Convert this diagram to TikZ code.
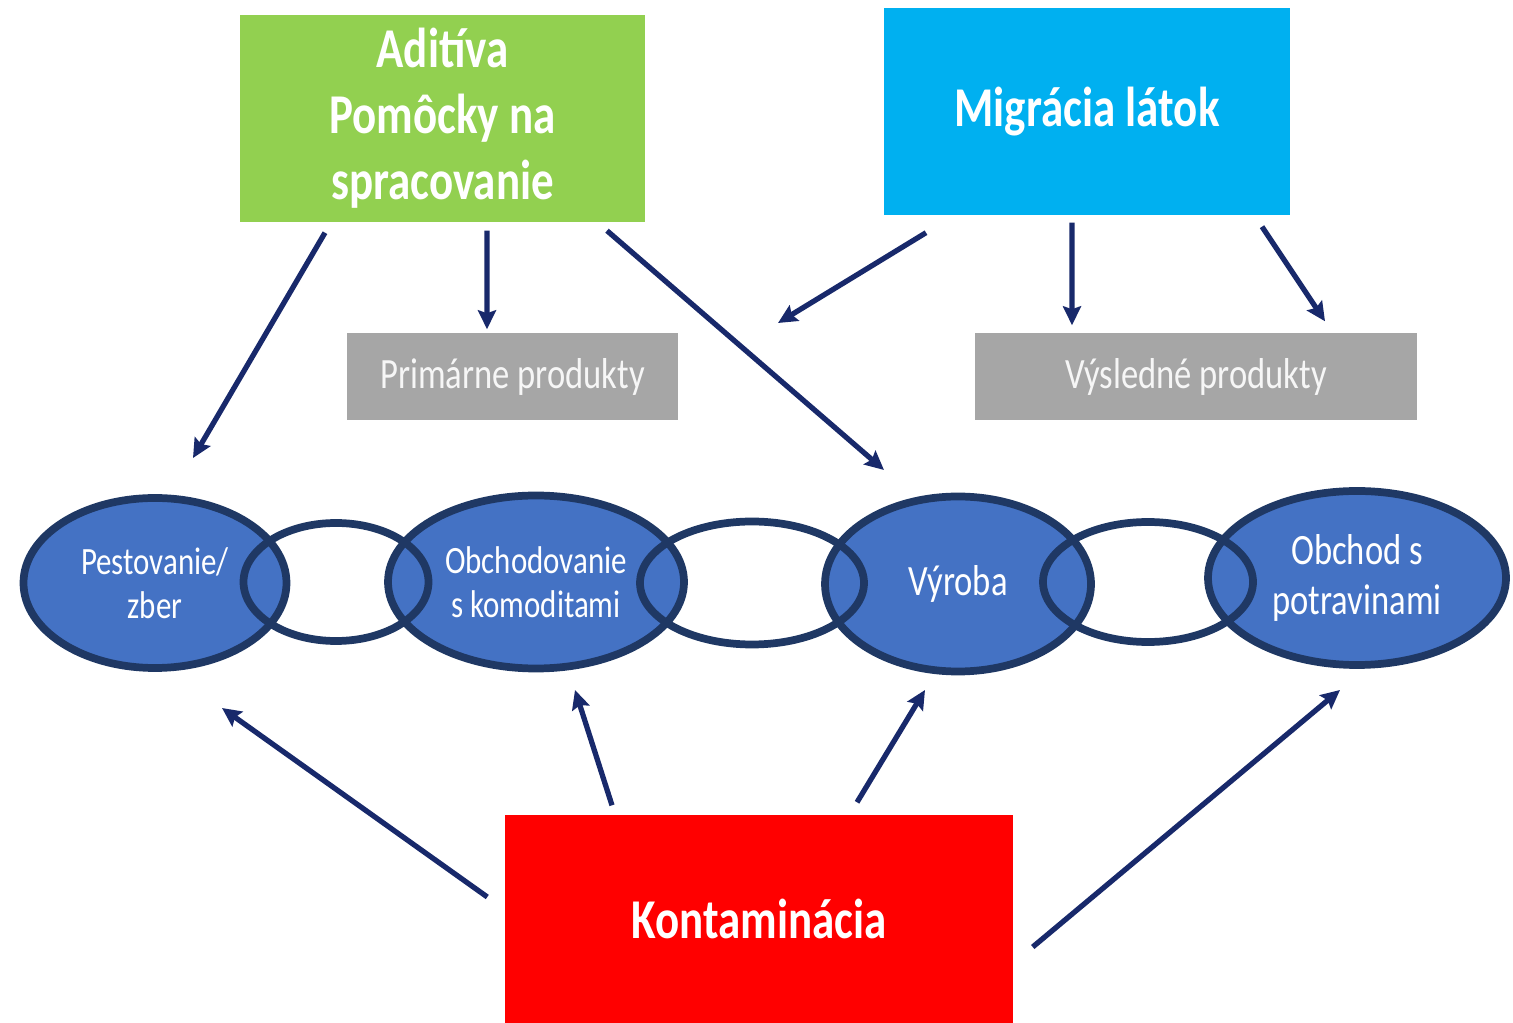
\documentclass[tikz,border=0pt]{standalone}
\usepackage{fontspec}
\setmainfont[FakeStretch=0.8]{Carlito}
\usetikzlibrary{shapes.geometric, arrows.meta}
\definecolor{addgreen}{HTML}{92D050}
\definecolor{migblue}{HTML}{00B0F0}
\definecolor{contred}{HTML}{FF0000}
\definecolor{prodgray}{HTML}{A6A6A6}
\definecolor{stageblue}{HTML}{4472C4}
\definecolor{ringblue}{HTML}{1F3864}
\definecolor{arrowblue}{HTML}{18296B}
\tikzstyle{source} = [rectangle, minimum width=4.05cm, minimum height=2.07cm, inner sep=0pt, text centered, align=center, text=white, font=\bfseries\fontsize{16}{18.8}\selectfont]
\tikzstyle{product} = [rectangle, minimum height=0.87cm, inner sep=0pt, text centered, fill=prodgray, text=white!90!prodgray, font=\fontsize{12.3}{14}\selectfont]
\tikzstyle{stage} = [ellipse, draw=ringblue, line width=2.2pt, fill=stageblue, inner sep=0pt, align=center, text=white, font=\fontsize{11}{12.5}\selectfont]
\tikzstyle{link} = [ellipse, draw=ringblue, line width=2.2pt, inner sep=0pt]
\tikzstyle{arrow} = [line width=1.5pt, -{Stealth[length=0.19cm, width=0.18cm, inset=0.03cm]}, draw=arrowblue]

\begin{document}
\begin{tikzpicture}
    \useasboundingbox (0,0) rectangle (15.13,-10.23);

    % sources
    \node (aditiva) [source, fill=addgreen] at (4.425,-1.185) {Aditíva\\Pomôcky na\\spracovanie};
    \node (migracia) [source, fill=migblue, minimum width=4.06cm] at (10.87,-1.115) {Migrácia látok};
    \node (kontaminacia) [source, fill=contred, minimum width=5.08cm, minimum height=2.08cm] at (7.59,-9.19) {Kontaminácia};

    % products
    \node (primarne) [product, minimum width=3.31cm] at (5.125,-3.765) {Primárne produkty};
    \node (vysledne) [product, minimum width=4.42cm] at (11.96,-3.765) {Výsledné produkty};

    % chain
    \node (pestovanie) [stage, minimum width=2.63cm, minimum height=1.70cm] at (1.55,-5.83) {Pestovanie/\\zber};
    \node (obchodovanie) [stage, minimum width=2.96cm, minimum height=1.73cm] at (5.36,-5.82) {Obchodovanie\\s komoditami};
    \node (vyroba) [stage, minimum width=2.66cm, minimum height=1.75cm, font=\fontsize{12.3}{14}\selectfont] at (9.58,-5.84) {Výroba};
    \node (obchod) [stage, minimum width=2.98cm, minimum height=1.74cm, font=\fontsize{12.3}{14.2}\selectfont] at (13.57,-5.78) {Obchod s\\potravinami};
    \node (ring1) [link, minimum width=1.85cm, minimum height=1.18cm] at (3.36,-5.82) {};
    \node (ring2) [link, minimum width=2.24cm, minimum height=1.23cm] at (7.52,-5.83) {};
    \node (ring3) [link, minimum width=2.10cm, minimum height=1.20cm] at (11.48,-5.82) {};

    % free arrow ends
    \coordinate (toPestovanie) at (1.93,-4.58);
    \coordinate (toVyroba) at (8.84,-4.70);
    \coordinate (toGap) at (7.78,-3.23);
    \coordinate (upPestovanie) at (2.22,-7.08);
    \coordinate (upObchodovanie) at (5.75,-6.90);
    \coordinate (upVyroba) at (9.25,-6.90);
    \coordinate (upObchod) at (13.40,-6.90);

    \draw [arrow] ([xshift=-1.175cm,yshift=-0.10cm]aditiva.south) -- (toPestovanie);
    \draw [arrow] ([xshift=0.445cm,yshift=-0.08cm]aditiva.south) -- ([xshift=-0.255cm,yshift=0.03cm]primarne.north);
    \draw [arrow] ([xshift=1.645cm,yshift=-0.08cm]aditiva.south) -- (toVyroba);

    \draw [arrow] ([xshift=-1.61cm,yshift=-0.17cm]migracia.south) -- (toGap);
    \draw [arrow] ([xshift=-0.15cm,yshift=-0.07cm]migracia.south) -- ([xshift=-1.24cm,yshift=0.07cm]vysledne.north);
    \draw [arrow] ([xshift=1.75cm,yshift=-0.11cm]migracia.south) -- ([xshift=1.29cm,yshift=0.11cm]vysledne.north);

    \draw [arrow] ([xshift=-0.17cm,yshift=0.22cm]kontaminacia.west) -- (upPestovanie);
    \draw [arrow] ([xshift=-1.47cm,yshift=0.09cm]kontaminacia.north) -- (upObchodovanie);
    \draw [arrow] ([xshift=0.98cm,yshift=0.12cm]kontaminacia.north) -- (upVyroba);
    \draw [arrow] ([xshift=0.19cm,yshift=-0.28cm]kontaminacia.east) -- (upObchod);

\end{tikzpicture}
\end{document}
